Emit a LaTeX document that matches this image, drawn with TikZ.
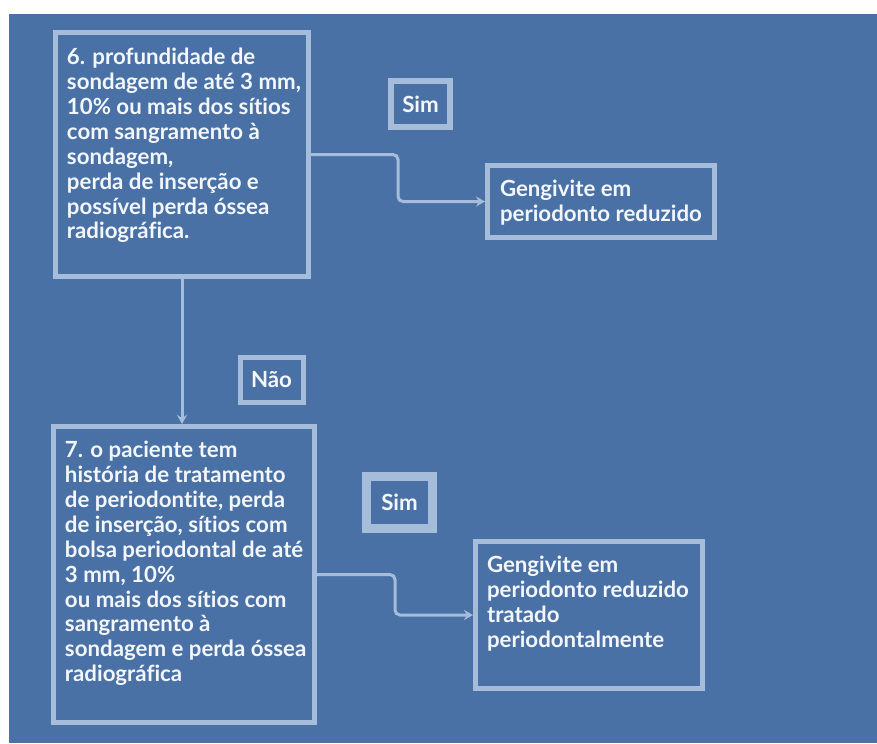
\documentclass[tikz,border=0pt]{standalone}
\usepackage{fontspec}
\setmainfont{Lato}[Ligatures=NoCommon]
\usetikzlibrary{positioning,arrows.meta,calc}
\definecolor{bgC}{HTML}{4A71A5}
\definecolor{lineC}{HTML}{A5BCDA}
\definecolor{textC}{HTML}{F3F6FA}
\newcommand{\celltext}[3]{\parbox[c][#2][t]{#1}{\begin{tabular}[t]{@{}l@{}}#3\end{tabular}}}

\begin{document}
\begin{tikzpicture}[
  x=0.03cm, y=-0.03cm,
  every node/.style={font=\fontsize{19}{21.3}\selectfont\bfseries, text=textC},
  qbox/.style={draw=lineC, line width=0.15cm, inner xsep=0.345cm, inner ysep=#1},
  qbox/.default=0.5cm,
  tagbox/.style={draw=lineC, line width=#1, inner sep=0pt, align=center},
  tagbox/.default=0.18cm,
  flow/.style={draw=lineC, line width=0.09cm, rounded corners=0.15cm,
               -{Stealth[length=0.27cm, width=0.3cm]}},
]

% ── Canvas ──
\useasboundingbox (0,0) rectangle (877,743);
\fill[white] (0,0) rectangle (877,743);
\fill[bgC] (9,14) rectangle (877,743);

% ── Question 6 ──
\node[qbox=0.43cm] (q6) at (182,154.5) {\celltext{6.9cm}{6.46cm}{%
  6. profundidade de\\
  sondagem de até 3 mm,\\
  10\% ou mais dos sítios\\
  com sangramento à\\
  sondagem,\\
  perda de inserção e\\
  possível perda óssea\\
  radiográfica.}};

\node[tagbox, minimum width=1.77cm, minimum height=1.38cm] (sim6) at (420.5,104) {Sim};

\node[qbox=0.4cm, inner xsep=0.375cm] (g6) at (601,201.5) {\celltext{6.06cm}{1.36cm}{%
  Gengivite em\\
  periodonto reduzido}};

% ── Question 7 ──
\node[tagbox=0.15cm, minimum width=1.89cm, minimum height=1.35cm] (nao) at (271.5,379.5) {Não};

\node[qbox=0.4cm] (q7) at (184,574.5) {\celltext{7.14cm}{8.08cm}{%
  7. o paciente tem\\
  história de tratamento\\
  de periodontite, perda\\
  de inserção, sítios com\\
  bolsa periodontal de até\\
  3 mm, 10\%\\
  ou mais dos sítios com\\
  sangramento à\\
  sondagem e perda óssea\\
  radiográfica}};

\node[tagbox=0.27cm, minimum width=1.98cm, minimum height=1.56cm] (sim7) at (399.5,502.5) {Sim};

\node[qbox=0.42cm] (g7) at (589,615) {\celltext{6.12cm}{3.57cm}{%
  Gengivite em\\
  periodonto reduzido\\
  tratado\\
  periodontalmente}};

% ── Connectors ──
\coordinate (m6) at ($(q6.east)!0.5!(g6.west)$);
\coordinate (m7) at ($(q7.east)!0.5!(g7.west)$);
\draw[flow] (q6.east) -- (q6.east -| m6) -- (m6 |- g6.west) -- (g6.west);
\draw[flow] (q6.south) -- (q6.south |- q7.north);
\draw[flow] (q7.east) -- (q7.east -| m7) -- (m7 |- g7.west) -- (g7.west);

\end{tikzpicture}
\end{document}
